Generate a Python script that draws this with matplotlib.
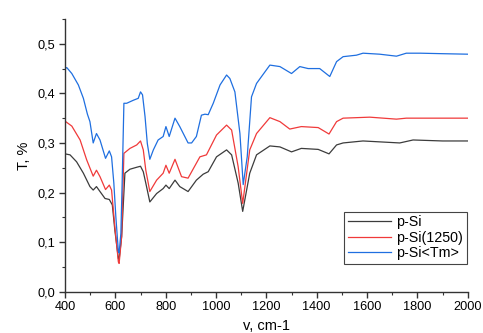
import matplotlib
matplotlib.use("Agg")
import matplotlib.pyplot as plt
from matplotlib.ticker import MultipleLocator, FuncFormatter

# Данные
x_psi = [400, 420, 446, 473, 499, 512, 525, 539, 559, 576, 588, 598, 612, 615, 625, 638,
         658, 685, 700, 711, 721, 737, 764, 790, 801, 814, 837, 856, 889, 922, 949, 969,
         1002, 1042, 1062, 1088, 1106, 1134, 1161, 1214, 1254, 1300, 1339, 1406, 1449,
         1479, 1505, 1584, 1730, 1783, 1900, 2000]
t_psi = [0.278, 0.276, 0.262, 0.239, 0.212, 0.205, 0.212, 0.202, 0.188, 0.186, 0.175,
         0.124, 0.067, 0.065, 0.111, 0.239, 0.247, 0.251, 0.253, 0.242, 0.219, 0.181,
         0.198, 0.208, 0.215, 0.208, 0.225, 0.212, 0.202, 0.225, 0.237, 0.242, 0.272,
         0.286, 0.276, 0.219, 0.162, 0.239, 0.276, 0.294, 0.292, 0.282, 0.289, 0.287,
         0.278, 0.296, 0.300, 0.304, 0.300, 0.306, 0.304, 0.304]

x_1250 = [400, 427, 460, 486, 512, 525, 539, 561, 576, 585, 598, 612, 615, 625, 634, 658,
          685, 700, 711, 721, 737, 764, 790, 801, 814, 837, 863, 889, 936, 962, 1002,
          1042, 1062, 1088, 1106, 1134, 1161, 1214, 1254, 1293, 1339, 1406, 1449, 1479,
          1505, 1611, 1717, 1756, 1850, 2000]
t_1250 = [0.344, 0.334, 0.306, 0.266, 0.233, 0.245, 0.232, 0.206, 0.215, 0.205, 0.131,
          0.060, 0.057, 0.111, 0.279, 0.289, 0.296, 0.304, 0.286, 0.245, 0.202, 0.225,
          0.239, 0.255, 0.239, 0.267, 0.232, 0.229, 0.272, 0.276, 0.316, 0.336, 0.326,
          0.252, 0.178, 0.286, 0.319, 0.351, 0.343, 0.328, 0.333, 0.331, 0.318, 0.343,
          0.350, 0.352, 0.348, 0.350, 0.350, 0.350]

x_tm = [400, 407, 427, 453, 473, 489, 499, 512, 525, 539, 561, 576, 585, 594, 602, 612,
        615, 622, 627, 634, 645, 671, 691, 700, 708, 718, 727, 737, 751, 770, 790, 801,
        814, 837, 856, 889, 903, 922, 942, 956, 969, 989, 1016, 1042, 1055, 1075, 1095,
        1108, 1124, 1141, 1161, 1181, 1214, 1254, 1300, 1333, 1366, 1412, 1452, 1479,
        1505, 1558, 1584, 1650, 1717, 1756, 1812, 1900, 2000]
t_tm = [0.450, 0.452, 0.440, 0.417, 0.390, 0.358, 0.343, 0.300, 0.319, 0.306, 0.269,
        0.284, 0.272, 0.219, 0.151, 0.081, 0.078, 0.118, 0.219, 0.380, 0.380, 0.386,
        0.390, 0.403, 0.397, 0.353, 0.299, 0.267, 0.286, 0.306, 0.313, 0.333, 0.313,
        0.350, 0.333, 0.300, 0.300, 0.313, 0.356, 0.358, 0.357, 0.380, 0.417, 0.437,
        0.430, 0.403, 0.319, 0.216, 0.272, 0.393, 0.420, 0.434, 0.457, 0.454, 0.440,
        0.454, 0.450, 0.450, 0.434, 0.464, 0.474, 0.477, 0.481, 0.479, 0.475, 0.481,
        0.481, 0.480, 0.479]

plt.rcParams['font.family'] = ['Liberation Sans', 'DejaVu Sans']

fig = plt.figure(figsize=(4.83, 3.33), dpi=100)
ax = fig.add_axes([0.1346, 0.124, 0.8337, 0.819])

ax.plot(x_psi, t_psi, color='#3c3c3c', lw=0.9, label='p-Si')
ax.plot(x_1250, t_1250, color='#f03a3a', lw=0.9, label='p-Si(1250)')
ax.plot(x_tm, t_tm, color='#1f6fe0', lw=0.9, label='p-Si<Tm>')

ax.set_xlim(400, 2000)
ax.set_ylim(0, 0.55)
ax.xaxis.set_major_locator(MultipleLocator(200))
ax.xaxis.set_minor_locator(MultipleLocator(100))
ax.yaxis.set_major_locator(MultipleLocator(0.1))
ax.yaxis.set_minor_locator(MultipleLocator(0.05))
ax.yaxis.set_major_formatter(FuncFormatter(lambda v, p: f'{v:.1f}'.replace('.', ',')))

for s in ['top', 'right']:
    ax.spines[s].set_visible(False)
for s in ['left', 'bottom']:
    ax.spines[s].set_linewidth(1.0)
    ax.spines[s].set_color('#333333')

ax.tick_params(which='major', direction='out', length=4, width=1, labelsize=9.2, color='#333333', pad=3)
ax.tick_params(which='minor', direction='out', length=2.5, width=0.8, color='#333333')

ax.set_xlabel('v, cm-1', fontsize=10.5, labelpad=4)
ax.set_ylabel('T, %', fontsize=10.5, labelpad=5)

leg = ax.legend(loc='lower right', bbox_to_anchor=(0.9975, 0.102), fontsize=10.3,
                frameon=True, fancybox=False, edgecolor='#444444', framealpha=1,
                handlelength=3.0, borderaxespad=0, borderpad=0.25, labelspacing=0.1,
                handletextpad=0.4)
leg.get_frame().set_linewidth(0.8)

fig.savefig('out.png', dpi=100)
